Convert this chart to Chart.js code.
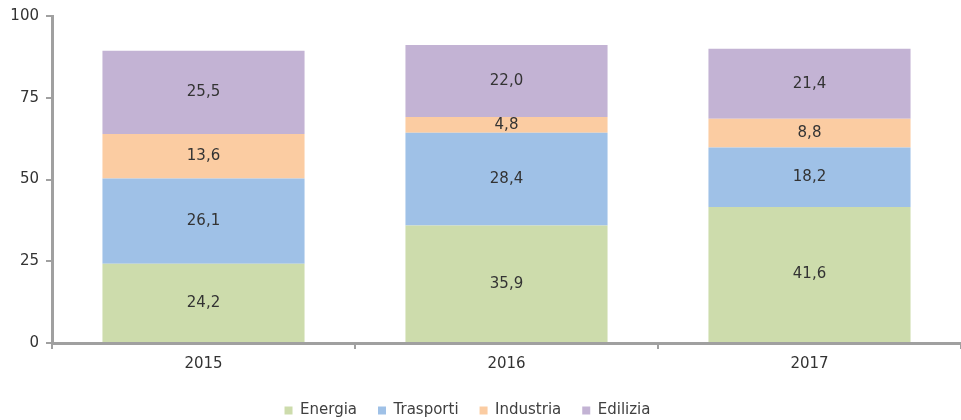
<!DOCTYPE html>
<html>
<head>
<meta charset="utf-8">
<script src="https://cdn.jsdelivr.net/npm/chart.js@4"></script>
<style>
  html, body { margin: 0; padding: 0; background: #fff; }
  #wrap { width: 961px; height: 420px; }
</style>
</head>
<body>
<div id="wrap"><canvas id="myChart" width="961" height="420"></canvas></div>
<script>
const years = ["2015", "2016", "2017"];
const energia = [24.2, 35.9, 41.6];
const trasporti = [26.1, 28.4, 18.2];
const industria = [13.6, 4.8, 8.8];
const edilizia = [25.5, 22.0, 21.4];
const yTicks = [0, 25, 50, 75, 100];

const FONT = "'DejaVu Sans'";
Chart.defaults.font.family = FONT;

// write the value in the middle of every segment
const segmentLabels = {
  id: "segmentLabels",
  afterDatasetsDraw(chart) {
    const ctx = chart.ctx;
    ctx.save();
    ctx.font = "15px " + FONT;
    ctx.fillStyle = "#333";
    ctx.textAlign = "center";
    ctx.textBaseline = "middle";
    chart.data.datasets.forEach((ds, i) => {
      chart.getDatasetMeta(i).data.forEach((bar, j) => {
        const mid = (bar.y + bar.base) / 2;
        ctx.fillText(ds.data[j].toFixed(1).replace(".", ","), bar.x, mid);
      });
    });
    ctx.restore();
  },
};

const chart = new Chart(document.getElementById("myChart"), {
  type: "bar",
  data: {
    labels: years,
    datasets: [
      { label: "Energia", data: energia, backgroundColor: "#cddcac" },
      { label: "Trasporti", data: trasporti, backgroundColor: "#9fc1e7" },
      { label: "Industria", data: industria, backgroundColor: "#fbcca2" },
      { label: "Edilizia", data: edilizia, backgroundColor: "#c3b3d4" },
    ],
  },
  options: {
    responsive: false,
    animation: false,
    layout: { padding: { top: 6, right: 0, left: 0, bottom: -8 } },
    datasets: { bar: { categoryPercentage: 1, barPercentage: 0.667 } },
    plugins: {
      legend: {
        position: "bottom",
        labels: {
          boxWidth: 8,
          boxHeight: 8,
          padding: 21,
          color: "#404040",
          font: { family: FONT, size: 15 },
        },
      },
      tooltip: { enabled: false },
    },
    scales: {
      x: {
        stacked: true,
        grid: {
          offset: true,
          drawOnChartArea: false,
          tickLength: 6,
          color: "#a0a0a0",
          lineWidth: 2,
        },
        border: { color: "#a0a0a0", width: 3 },
        ticks: { color: "#333", font: { family: FONT, size: 15 }, padding: 6 },
        afterFit(scale) { scale.height = 39; },
      },
      y: {
        stacked: true,
        min: 0,
        max: 100,
        afterBuildTicks(scale) { scale.ticks = yTicks.map(v => ({ value: v })); },
        grid: {
          drawOnChartArea: false,
          tickLength: 6,
          color: "#a0a0a0",
          lineWidth: 2,
        },
        border: { color: "#a0a0a0", width: 3 },
        ticks: { color: "#333", font: { family: FONT, size: 15 }, padding: 7 },
        afterFit(scale) { scale.width = 52; },
      },
    },
  },
  plugins: [segmentLabels],
});

// the legend sits a bit left of centre in the original
const drawLegend = chart.legend.draw;
chart.legend.draw = function () {
  chart.ctx.save();
  chart.ctx.translate(-13, 0);
  drawLegend.call(this);
  chart.ctx.restore();
};
chart.draw();
</script>
</body>
</html>
